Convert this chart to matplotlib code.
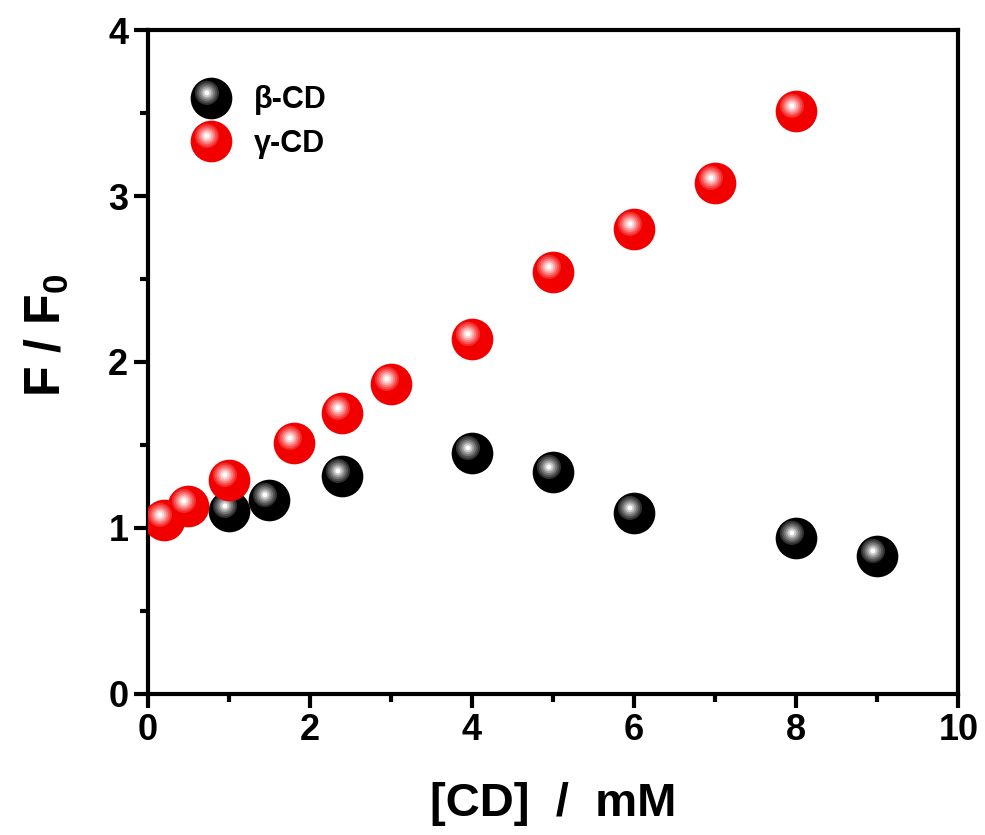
"""
F/F0 vs cyclodextrin concentration, glossy sphere markers
"""

import numpy as np
from matplotlib import pyplot as plt
from matplotlib.path import Path
from matplotlib.legend_handler import HandlerTuple


# data
beta_x = [1.0, 1.5, 2.4, 4.0, 5.0, 6.0, 8.0, 9.0]
beta_y = [1.10, 1.17, 1.31, 1.45, 1.34, 1.09, 0.94, 0.83]
gamma_x = [0.2, 0.5, 1.0, 1.8, 2.4, 3.0, 4.0, 5.0, 6.0, 7.0, 8.0]
gamma_y = [1.05, 1.13, 1.29, 1.51, 1.69, 1.87, 2.14, 2.54, 2.80, 3.08, 3.51]
labels = ['\u03b2-CD', '\u03b3-CD']

plt.rcParams['font.family'] = ['Liberation Sans', 'DejaVu Sans']
plt.rcParams['font.weight'] = 'bold'
plt.rcParams['mathtext.fontset'] = 'custom'
plt.rcParams['mathtext.rm'] = 'Liberation Sans:bold'
plt.rcParams['mathtext.it'] = 'Liberation Sans:bold'
plt.rcParams['mathtext.bf'] = 'Liberation Sans:bold'

# shading of the balls: radius (fraction of ball) and colour, outside in
RADII = [1.0, 0.58, 0.49, 0.40, 0.31, 0.22, 0.12]
BLACK_SHADES = ['#000000', '#303030', '#505050', '#747474', '#9a9a9a', '#c8c8c8', '#ffffff']
RED_SHADES = ['#f20000', '#f52a2a', '#f75050', '#f97a7a', '#fba5a5', '#fdd2d2', '#ffffff']


def circle_marker(r, dx=0.0, dy=0.0):
    """Circle of radius r at (dx, dy) in a fixed [-1, 1] box, so sizes stay comparable"""
    circ = Path.circle((dx, dy), r)
    verts = np.vstack([[[-1, -1], [1, 1]], circ.vertices])
    codes = [Path.MOVETO, Path.MOVETO] + list(circ.codes)
    return Path(verts, codes)


def sphere(ax, x, y, shades, ms=30, z=2):
    """Draw shiny balls as stacked circles; returns the handles for the legend"""
    hx, hy = -0.22, 0.27
    handles = []
    for i, (r, c) in enumerate(zip(RADII, shades)):
        # rings shrink towards the highlight spot
        t = 0 if i == 0 else 1
        h, = ax.plot(x, y, linestyle='none', marker=circle_marker(r, hx * t, hy * t),
                     markersize=ms, color=c, markeredgewidth=0, zorder=z + i * 0.01)
        handles.append(h)
    return tuple(handles)


fig = plt.figure(figsize=(9.85, 8.35), dpi=100)
ax = fig.add_axes([0.150, 0.169, 0.823, 0.795])

h_beta = sphere(ax, beta_x, beta_y, BLACK_SHADES, z=2)
h_gamma = sphere(ax, gamma_x, gamma_y, RED_SHADES, z=3)

ax.set_xlim(0, 10)
ax.set_ylim(0, 4)
ax.set_xticks([0, 2, 4, 6, 8, 10])
ax.set_xticks([1, 3, 5, 7, 9], minor=True)
ax.set_yticks([0, 1, 2, 3, 4])
ax.set_yticks([0.5, 1.5, 2.5, 3.5], minor=True)
ax.tick_params(which='both', direction='out', width=3, labelsize=26, top=False, right=False)
ax.tick_params(which='major', length=10, pad=4)
ax.tick_params(which='minor', length=6)
for sp in ax.spines.values():
    sp.set_linewidth(3)

ax.set_xlabel('[CD]  /  mM', fontsize=34, fontweight='bold', labelpad=24)
ax.set_ylabel('F / F$_0$', fontsize=36, fontweight='bold')
ax.yaxis.set_label_coords(-0.095, 0.54)

ax.legend([h_beta, h_gamma], labels, handler_map={tuple: HandlerTuple(ndivide=1)},
          loc='upper left', bbox_to_anchor=(0.025, 0.958), frameon=False, fontsize=22,
          handlelength=1.0, handletextpad=0.9, labelspacing=0.45, numpoints=1)

fig.savefig('out.png', dpi=100)
